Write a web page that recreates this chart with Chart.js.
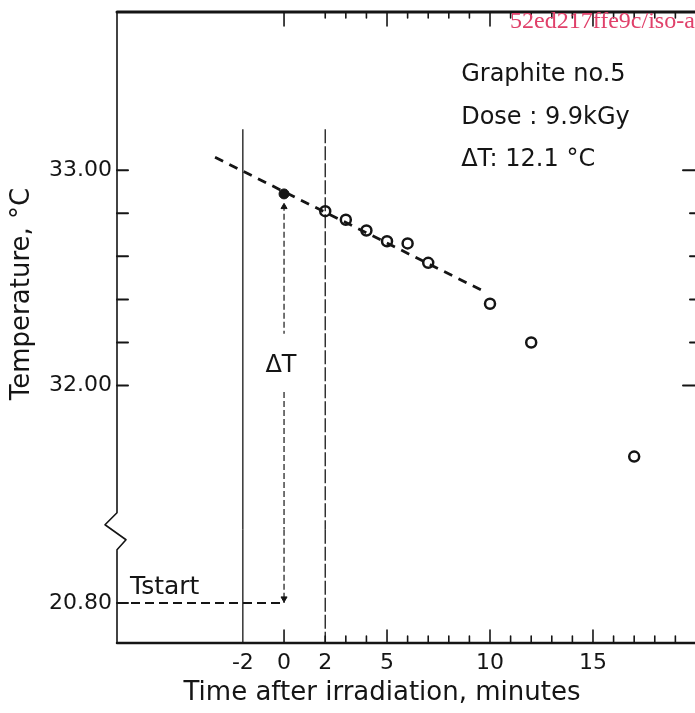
<!DOCTYPE html>
<html>
<head>
<meta charset="utf-8">
<script src="https://cdn.jsdelivr.net/npm/chart.js@4.4.0/dist/chart.umd.min.js"></script>
<style>
  html, body { margin: 0; padding: 0; background: #fff; overflow: hidden; }
  #wrap { width: 705px; height: 713px; }
</style>
</head>
<body>
<div id="wrap"><canvas id="chart" width="705" height="713"></canvas></div>
<script>
// measured temperatures after irradiation (minutes, °C)
const timeMin = [2, 3, 4, 5, 6, 7, 10, 12, 17];
const tempC = [32.81, 32.77, 32.72, 32.67, 32.66, 32.57, 32.38, 32.2, 31.67];
// extrapolated value at t = 0 (filled dot)
const t0Time = [0];
const t0Temp = [32.89];
// fitted drift line
const fitTime = [-3.35, 9.65];
const fitTemp = [33.06, 32.44];
// start temperature and irradiation window
const tStart = 20.8;
const markerTimes = [-2, 2];
const markerTop = 33.19;

const xTickLabels = [-2, 0, 2, 5, 10, 15];
const yTickValues = [32.0, 32.2, 32.4, 32.6, 32.8, 33.0];
const yLowTicks = [20.8];

// axis windows on both sides of the break
const xRange = [-8.11, 20.05];
const upperRange = [31.33, 33.735];
const lowerRange = [20.614, 21.14];

const noteLines = ["Graphite no.5", "Dose : 9.9kGy", "\u0394T: 12.1 \u00b0C"];

const ink = "#151515";
const font = "DejaVu Sans";

function pts(xs, ys) {
  return xs.map((x, i) => ({ x: x, y: ys[i] }));
}

const datasets = [
  {
    label: "measured",
    data: pts(timeMin, tempC),
    pointStyle: "circle",
    pointRadius: 5,
    borderWidth: 2.5,
    borderColor: ink,
    backgroundColor: "rgba(0,0,0,0)",
    yAxisID: "y",
  },
  {
    label: "fit",
    data: pts(fitTime, fitTemp),
    showLine: true,
    pointRadius: 0,
    borderColor: ink,
    borderWidth: 2.8,
    borderDash: [9, 7],
    yAxisID: "y",
  },
  {
    label: "T0",
    data: pts(t0Time, t0Temp),
    pointRadius: 5,
    borderWidth: 1,
    borderColor: ink,
    backgroundColor: ink,
    yAxisID: "y",
  },
  {
    label: "Tstart",
    data: [{ x: xRange[0], y: tStart }, { x: 0, y: tStart }],
    showLine: true,
    pointRadius: 0,
    borderColor: ink,
    borderWidth: 2,
    borderDash: [9, 5],
    yAxisID: "yLow",
  },
  // delta T guide, upper part (broken for the label)
  {
    label: "dT upper",
    data: [
      { x: 0, y: 32.84 }, { x: 0, y: 32.24 }, { x: 0, y: null },
      { x: 0, y: 31.97 }, { x: 0, y: upperRange[0] },
    ],
    showLine: true,
    spanGaps: false,
    pointRadius: 0,
    borderColor: ink,
    borderWidth: 1.2,
    borderDash: [6, 3],
    yAxisID: "y",
  },
  {
    label: "dT lower",
    data: [{ x: 0, y: lowerRange[1] }, { x: 0, y: tStart }],
    showLine: true,
    pointRadius: 0,
    borderColor: ink,
    borderWidth: 1.2,
    borderDash: [6, 3],
    yAxisID: "yLow",
  },
  {
    label: "arrow top",
    data: [{ x: 0, y: 32.83 }],
    pointStyle: "triangle",
    pointRadius: 3.5,
    borderColor: ink,
    backgroundColor: ink,
    yAxisID: "y",
  },
  {
    label: "arrow bottom",
    data: [{ x: 0, y: tStart + 0.02 }],
    pointStyle: "triangle",
    rotation: 180,
    pointRadius: 3.5,
    borderColor: ink,
    backgroundColor: ink,
    yAxisID: "yLow",
  },
];

// irradiation window lines, crossing the break
markerTimes.forEach((t, i) => {
  const dash = i === 0 ? [] : [14, 3];
  datasets.push({
    label: "win " + t,
    data: [{ x: t, y: markerTop }, { x: t, y: upperRange[0] }],
    showLine: true,
    pointRadius: 0,
    borderColor: ink,
    borderWidth: 1.3,
    borderDash: dash,
    clip: 2,
    yAxisID: "y",
  });
  datasets.push({
    label: "win low " + t,
    data: [{ x: t, y: lowerRange[1] }, { x: t, y: lowerRange[0] }],
    showLine: true,
    pointRadius: 0,
    borderColor: ink,
    borderWidth: 1.3,
    borderDash: dash,
    clip: 2,
    yAxisID: "yLow",
  });
});

function seg(ctx, x1, y1, x2, y2) {
  ctx.beginPath();
  ctx.moveTo(x1, y1);
  ctx.lineTo(x2, y2);
  ctx.stroke();
}

// no extra room for the end labels
function noPad(s) {
  s.paddingTop = 0;
  s.paddingBottom = 0;
  s.paddingLeft = 0;
  s.paddingRight = 0;
}

// frame, inward ticks and free text
const framePlugin = {
  id: "frame",
  afterDraw(chart) {
    const { ctx, chartArea: a, scales } = chart;
    const sx = scales.x, sy = scales.y, sl = scales.yLow;
    const brk = sl.top;
    ctx.save();
    ctx.strokeStyle = ink;
    ctx.fillStyle = ink;
    ctx.lineCap = "round";
    ctx.lineJoin = "round";

    ctx.lineWidth = 3;
    seg(ctx, a.left, a.top, a.right, a.top);
    ctx.lineWidth = 2.5;
    seg(ctx, a.left, a.bottom, a.right, a.bottom);
    ctx.lineWidth = 2;
    seg(ctx, a.right, a.top, a.right, a.bottom);

    // left axis with the break symbol
    ctx.lineWidth = 1.6;
    ctx.beginPath();
    ctx.moveTo(a.left, a.top);
    ctx.lineTo(a.left, brk - 17);
    ctx.lineTo(a.left - 12, brk - 5);
    ctx.lineTo(a.left + 9, brk + 10);
    ctx.lineTo(a.left, brk + 20);
    ctx.lineTo(a.left, a.bottom);
    ctx.stroke();

    // minute ticks top and bottom
    ctx.lineWidth = 1.6;
    for (let t = 0; t <= 19; t++) {
      if (t === 1) continue;
      const px = sx.getPixelForValue(t);
      const major = t % 5 === 0;
      seg(ctx, px, a.top, px, a.top + (major ? 14 : 6));
      seg(ctx, px, a.bottom, px, a.bottom - (major ? 13 : 7));
    }

    // temperature ticks left and right
    ctx.lineWidth = 2;
    sy.ticks.forEach((tk) => {
      const py = sy.getPixelForValue(tk.value);
      const major = Math.abs(tk.value - Math.round(tk.value)) < 1e-6;
      seg(ctx, a.left, py, a.left + 11, py);
      seg(ctx, a.right, py, a.right - (major ? 14 : 7), py);
    });
    sl.ticks.forEach((tk) => {
      const py = sl.getPixelForValue(tk.value);
      seg(ctx, a.left, py, a.left + 11, py);
    });

    // notes
    ctx.textBaseline = "middle";
    ctx.textAlign = "left";
    ctx.font = "24px '" + font + "'";
    const noteX = sx.getPixelForValue(8.6);
    noteLines.forEach((s, i) => {
      ctx.fillText(s, noteX, 75 + i * 42.5);
    });

    ctx.textAlign = "center";
    ctx.fillText("\u0394T", sx.getPixelForValue(-0.15), sy.getPixelForValue(32.09));
    ctx.textAlign = "left";
    ctx.font = "25px '" + font + "'";
    ctx.fillText("Tstart", a.left + 13, sl.getPixelForValue(tStart) - 15);

    // axis titles
    ctx.font = "26px '" + font + "'";
    ctx.textAlign = "center";
    ctx.fillText("Time after irradiation, minutes", 382, 693);
    ctx.save();
    ctx.translate(22, 294);
    ctx.rotate(-Math.PI / 2);
    ctx.fillText("Temperature, \u00b0C", 0, 0);
    ctx.restore();

    // scan watermark
    ctx.fillStyle = "#e0406a";
    ctx.font = "24px 'Liberation Serif'";
    ctx.textAlign = "left";
    ctx.fillText("52ed217ffe9c/iso-a", 510, 22);
    ctx.restore();
  },
};

new Chart(document.getElementById("chart"), {
  type: "scatter",
  data: { datasets: datasets },
  options: {
    responsive: false,
    animation: false,
    layout: { padding: { top: 12, right: 8, left: 0, bottom: 0 } },
    plugins: { legend: { display: false }, tooltip: { enabled: false } },
    scales: {
      x: {
        type: "linear",
        min: xRange[0],
        max: xRange[1],
        afterBuildTicks: (s) => {
          s.ticks = xTickLabels.map((v) => ({ value: v }));
        },
        afterFit: (s) => {
          s.height = 70;
          noPad(s);
        },
        grid: { display: false, drawTicks: false },
        border: { display: false },
        ticks: {
          autoSkip: false,
          maxRotation: 0,
          padding: 7,
          color: ink,
          font: { family: font, size: 22 },
          callback: (v) => String(v),
        },
      },
      y: {
        type: "linear",
        position: "left",
        stack: "temp",
        stackWeight: upperRange[1] - upperRange[0],
        weight: 2,
        min: upperRange[0],
        max: upperRange[1],
        afterBuildTicks: (s) => {
          s.ticks = yTickValues.map((v) => ({ value: v }));
        },
        afterFit: (s) => {
          s.width = 117;
          noPad(s);
        },
        grid: { display: false, drawTicks: false },
        border: { display: false },
        ticks: {
          padding: 5,
          color: ink,
          font: { family: font, size: 22 },
          callback: (v) => (Math.abs(v - Math.round(v)) < 1e-6 ? v.toFixed(2) : ""),
        },
      },
      yLow: {
        type: "linear",
        position: "left",
        stack: "temp",
        stackWeight: lowerRange[1] - lowerRange[0],
        weight: 1,
        min: lowerRange[0],
        max: lowerRange[1],
        afterBuildTicks: (s) => {
          s.ticks = yLowTicks.map((v) => ({ value: v }));
        },
        afterFit: (s) => {
          s.width = 117;
          noPad(s);
        },
        grid: { display: false, drawTicks: false },
        border: { display: false },
        ticks: {
          padding: 5,
          color: ink,
          font: { family: font, size: 22 },
          callback: (v) => v.toFixed(2),
        },
      },
    },
  },
  plugins: [framePlugin],
});
</script>
</body>
</html>
